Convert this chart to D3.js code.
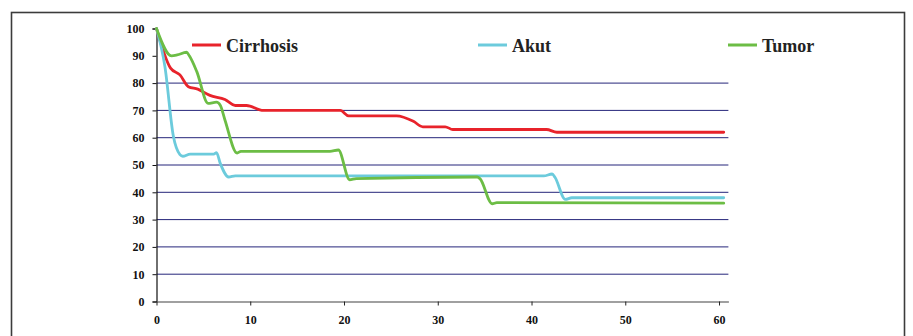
<!DOCTYPE html>
<html><head><meta charset="utf-8">
<script src="https://cdn.jsdelivr.net/npm/d3@7"></script>
<style>body{margin:0;background:#fff}svg{display:block}
text{font-family:"Times New Roman","Liberation Serif","DejaVu Serif",serif;font-weight:bold}</style>
</head><body>
<svg id="c" width="913" height="336"></svg>
<script>
const seriesNames = ["Cirrhosis", "Akut", "Tumor"];
const seriesColors = ["#e8232b", "#6ccbdc", "#6cbd45"];
const xTicks = [0, 10, 20, 30, 40, 50, 60];
const yTicks = [0, 10, 20, 30, 40, 50, 60, 70, 80, 90, 100];
const gridValues = [10, 20, 30, 40, 50, 60, 70, 80];

const cirrhosisX = [0, 1.5, 2.5, 3.4, 4.4, 5.7, 7.3, 8.4, 9.6, 11.4, 19.6, 20.5, 25.6, 27.4, 28.4, 30.8, 31.6, 41.6, 42.7, 60.5];
const cirrhosisY = [100, 85.5, 83, 78.7, 77.8, 75.5, 74, 71.8, 71.8, 70, 70, 68, 68, 66, 64, 64, 63, 63, 62, 62];
const akutX = [0, 0.9, 1.8, 2.5, 2.8, 3.6, 6.1, 6.4, 6.8, 7.7, 8.4, 41.3, 42.2, 42.5, 43.6, 44.3, 60.5];
const akutY = [100, 86, 60.5, 53.8, 53.2, 54, 54, 54.5, 50.6, 45.6, 46, 46, 46.7, 45.5, 37.4, 38, 38];
const tumorX = [0, 1.6, 2.2, 3.2, 3.5, 4.3, 5.5, 6.4, 6.8, 7.3, 8.6, 9.0, 18.5, 19.4, 20.6, 21.3, 34.2, 34.5, 35.8, 36.3, 60.5];
const tumorY = [100, 90, 90.3, 91.3, 90, 84.2, 72.6, 73, 71.9, 66.5, 54.4, 55, 55, 55.5, 44.6, 45, 45.6, 45, 35.8, 36.2, 36];

const seriesX = [cirrhosisX, akutX, tumorX];
const seriesY = [cirrhosisY, akutY, tumorY];

const svg = d3.select("#c");
const x = d3.scaleLinear().domain([0, 61]).range([156.5, 728.4]);
const y = d3.scaleLinear().domain([0, 100]).range([301.5, 28.5]);

svg.append("rect").attr("x", 11.5).attr("y", 12.5).attr("width", 893).attr("height", 340)
  .attr("fill", "none").attr("stroke", "#3c3c3c").attr("stroke-width", 1.6);

svg.append("g").selectAll("line").data(gridValues).join("line")
  .attr("x1", x(0)).attr("x2", x(61))
  .attr("y1", d => y(d)).attr("y2", d => y(d))
  .attr("stroke", "#25257a").attr("stroke-width", 1);

const yAxis = svg.append("g").attr("transform", `translate(${x(0)},0)`)
  .call(d3.axisLeft(y).tickValues(yTicks).tickSize(4).tickPadding(8).tickFormat(d3.format("d")));
yAxis.attr("font-family", null).attr("font-size", null);
yAxis.select(".domain").attr("stroke", "#111").attr("stroke-width", 1.2);
yAxis.selectAll(".tick line").attr("stroke", "#111");
yAxis.selectAll("text").style("font-size", "12px").attr("fill", "#111");

const xAxis = svg.append("g").attr("transform", `translate(0,${y(0)})`)
  .call(d3.axisBottom(x).tickValues(xTicks).tickSize(4).tickSizeOuter(0).tickPadding(10).tickFormat(d3.format("d")));
xAxis.attr("font-family", null).attr("font-size", null);
xAxis.select(".domain").attr("stroke", "#808080").attr("stroke-width", 1.5);
xAxis.selectAll(".tick line").attr("stroke", "#222");
xAxis.selectAll("text").style("font-size", "12px").attr("fill", "#111");

const line = d3.line().x(d => x(d[0])).y(d => y(d[1])).curve(d3.curveMonotoneX);
seriesNames.forEach((name, i) => {
  const pts = seriesX[i].map((v, j) => [v, seriesY[i][j]]);
  svg.append("path").datum(pts).attr("d", line)
    .attr("fill", "none").attr("stroke", seriesColors[i]).attr("stroke-width", 2.8)
    .attr("stroke-linejoin", "round").attr("stroke-linecap", "round");
});

const legendX = [192, 478, 728];
const lg = svg.append("g");
seriesNames.forEach((name, i) => {
  lg.append("line").attr("x1", legendX[i]).attr("x2", legendX[i] + 29)
    .attr("y1", 45).attr("y2", 45).attr("stroke", seriesColors[i]).attr("stroke-width", 3);
  lg.append("text").attr("x", legendX[i] + 34).attr("y", 51.5)
    .style("font-size", "18px").attr("fill", "#222").text(name);
});
</script>
</body></html>
